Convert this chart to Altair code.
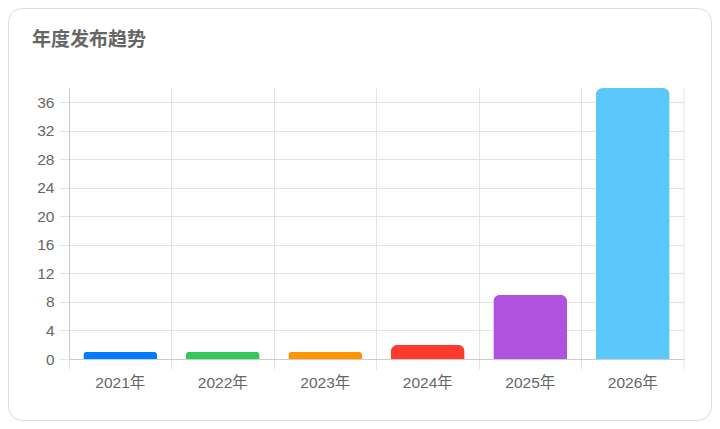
import altair as alt
import pandas as pd

years = ["2021年", "2022年", "2023年", "2024年", "2025年", "2026年"]
counts = [1, 1, 1, 2, 9, 38]
colors = ["#007AFF", "#34C759", "#FF9500", "#FF3B30", "#AF52DE", "#5AC8FA"]
y_ticks = [0, 4, 8, 12, 16, 20, 24, 28, 32, 36]
title_text = "年度发布趋势"

df = pd.DataFrame({"year": years, "count": counts})

FONT = "Liberation Sans, Arial, Noto Sans CJK SC, sans-serif"
GRID = "#e4e4e4"
TEXT = "#666666"

PW, PH = 615, 271

bars = alt.Chart(df).mark_bar(
    width=alt.RelativeBandSize(0.72),
    cornerRadiusTopLeft=7,
    cornerRadiusTopRight=7,
).encode(
    x=alt.X(
        "year:N",
        sort=years,
        scale=alt.Scale(paddingInner=0, paddingOuter=0),
        axis=alt.Axis(
            title=None,
            labelAngle=0,
            labelFontSize=15.5,
            labelColor=TEXT,
            labelFont=FONT,
            labelPadding=6,
            bandPosition=0,
            grid=True,
            gridColor=GRID,
            tickColor=GRID,
            tickSize=10,
            domainColor="#cccccc",
        ),
    ),
    y=alt.Y(
        "count:Q",
        scale=alt.Scale(domain=[0, 38], nice=False, zero=True),
        axis=alt.Axis(
            title=None,
            values=y_ticks,
            labelFontSize=15.5,
            labelColor=TEXT,
            labelFont=FONT,
            labelPadding=5,
            grid=True,
            gridColor=GRID,
            tickColor=GRID,
            tickSize=10,
            domainColor="#cccccc",
        ),
    ),
    color=alt.Color("year:N", scale=alt.Scale(domain=years, range=colors), legend=None),
)

right_edge = alt.Chart(alt.Data(values=[{}])).mark_rule(color=GRID).encode(
    x=alt.value(PW), y=alt.value(0), y2=alt.value(PH + 10)
)

card = alt.Chart(alt.Data(values=[{}])).mark_rect(
    fillOpacity=0, stroke="#dcdcdc", strokeWidth=1, cornerRadius=14
).encode(
    x=alt.value(-60.5), x2=alt.value(642.5), y=alt.value(-79.5), y2=alt.value(332.5)
)

title = alt.Chart(alt.Data(values=[{"t": title_text}])).mark_text(
    align="left",
    baseline="middle",
    fontSize=19,
    fontWeight="bold",
    color=TEXT,
    font="Noto Sans CJK SC, sans-serif",
).encode(x=alt.value(-37), y=alt.value(-48), text="t:N")

chart = alt.layer(card, bars, right_edge, title).properties(
    width=PW,
    height=PH,
    autosize=alt.AutoSizeParams(type="none"),
    padding={"left": 61, "top": 80, "right": 28, "bottom": 62},
).configure_view(stroke=None)

chart.save("out.html", embed_options={"renderer": "svg", "actions": False})
